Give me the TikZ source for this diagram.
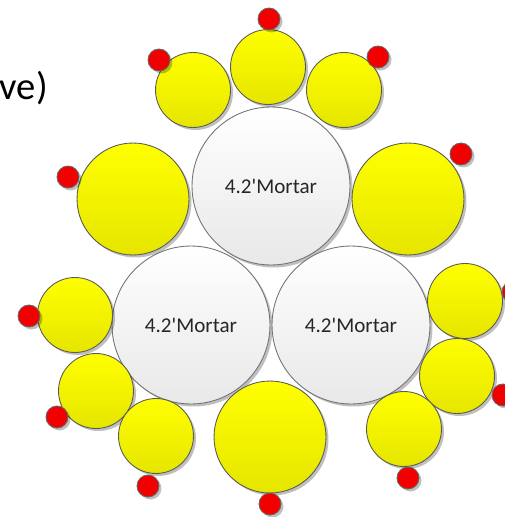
\documentclass[tikz,border=0pt]{standalone}
\usepackage{fontspec}
\setmainfont{Carlito}
\usetikzlibrary{shadows}
\begin{document}
\begin{tikzpicture}[
    x=0.02cm, y=-0.02cm,
    fsShadow/.style={drop shadow={shadow xshift=0.05cm, shadow yshift=-0.05cm, opacity=0.25, fill=black}},
    fsMortar/.style={circle, draw=black!55, line width=0.5pt, top color=white, bottom color=black!9, minimum size=3.16cm, inner sep=0pt, font=\fontsize{12}{14}\selectfont, text=black!85, fsShadow},
    fsBigTeam/.style={circle, draw=black!65, line width=0.5pt, top color=yellow, bottom color=yellow!90!black, minimum size=2.24cm, inner sep=0pt, fsShadow},
    fsTeam/.style={circle, draw=black!65, line width=0.5pt, top color=yellow, bottom color=yellow!90!black, minimum size=1.5cm, inner sep=0pt, fsShadow},
    fsGun/.style={circle, draw=black!60, line width=0.5pt, fill=red!95!black, minimum size=0.44cm, inner sep=0pt, fsShadow}
]
\useasboundingbox (0,0) rectangle (504,517);

% cut off title
\node[anchor=base east, font=\fontsize{22}{26}\selectfont] (title) at (54,100) {ve)};

% mortars
\node[fsMortar] (m1) at (271,186) {4.2\textquotesingle Mortar};
\node[fsMortar] (m2) at (191,325) {4.2\textquotesingle Mortar};
\node[fsMortar] (m3) at (351,325) {4.2\textquotesingle Mortar};

% large teams
\node[fsBigTeam] (b1) at (133,199) {};
\node[fsBigTeam] (b2) at (408,199) {};
\node[fsBigTeam] (b3) at (270,437) {};

% small teams, top row
\node[fsTeam] (s1) at (193,90) {};
\node[fsTeam] (s2) at (268,67) {};
\node[fsTeam] (s3) at (344,90) {};
% left side
\node[fsTeam] (s4) at (75,315) {};
\node[fsTeam] (s5) at (96,391) {};
\node[fsTeam] (s6) at (156,436) {};
% right side
\node[fsTeam] (s7) at (465,301) {};
\node[fsTeam] (s8) at (457,376) {};
\node[fsTeam] (s9) at (404,429) {};

% guns
\node[fsGun] (g1) at (68,177) {};
\node[fsGun] (g2) at (461,154) {};
\node[fsGun] (g3) at (270,504) {};
\node[fsGun] (g4) at (159,60) {};
\node[fsGun] (g5) at (269,19) {};
\node[fsGun] (g6) at (378,57) {};
\node[fsGun] (g7) at (29,316) {};
\node[fsGun] (g8) at (57,417) {};
\node[fsGun] (g9) at (148,486) {};
\node[fsGun] (g10) at (513,292) {};
\node[fsGun] (g11) at (503,395) {};
\node[fsGun] (g12) at (408,478) {};
\end{tikzpicture}
\end{document}
